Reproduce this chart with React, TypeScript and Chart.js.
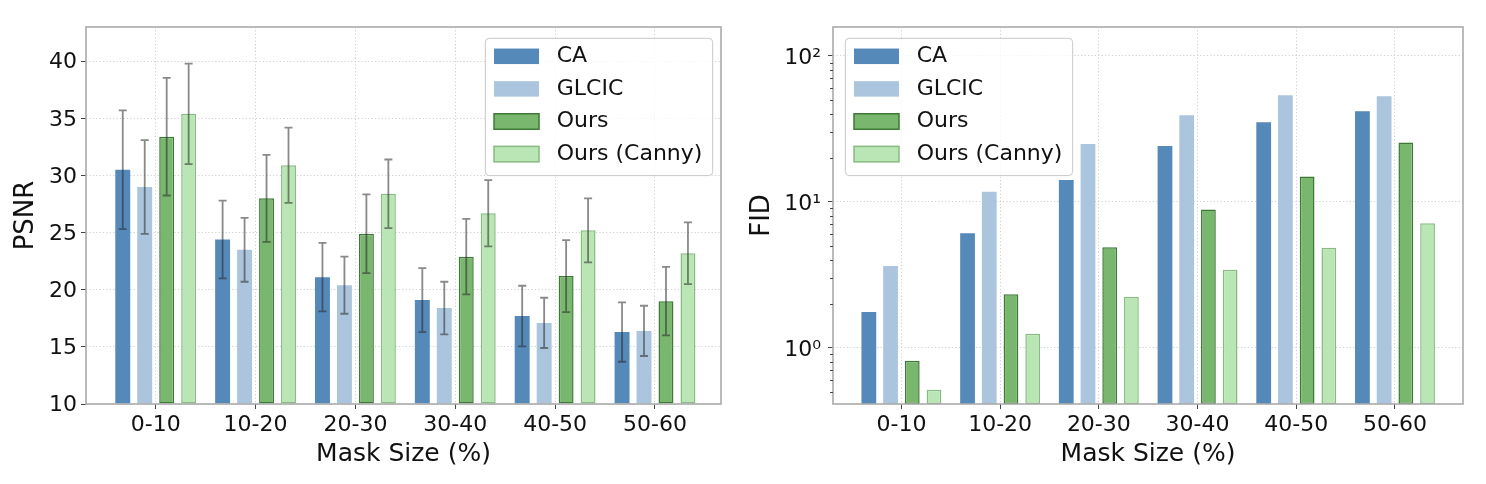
import { useEffect, useRef } from "react"
import { Chart, registerables } from "chart.js"

Chart.register(...registerables)
Chart.defaults.font.family = "'DejaVu Sans', sans-serif"

const categories = ["0-10", "10-20", "20-30", "30-40", "40-50", "50-60"]
const methods = ["CA", "GLCIC", "Ours", "Ours (Canny)"]

// PSNR means and error bar half-lengths
const psnrCA = [30.5, 24.4, 21.1, 19.1, 17.7, 16.3]
const psnrGLCIC = [29.0, 23.5, 20.4, 18.4, 17.1, 16.4]
const psnrOurs = [33.4, 28.0, 24.9, 22.9, 21.2, 19.0]
const psnrCanny = [35.4, 30.9, 28.4, 26.7, 25.2, 23.2]

const errCA = [5.2, 3.4, 3.0, 2.8, 2.65, 2.6]
const errGLCIC = [4.1, 2.8, 2.5, 2.3, 2.2, 2.2]
const errOurs = [5.15, 3.8, 3.45, 3.3, 3.15, 3.0]
const errCanny = [4.4, 3.3, 3.0, 2.9, 2.8, 2.7]

// FID (log scale)
const fidCA = [1.76, 6.1, 14.1, 24.1, 35.1, 41.8]
const fidGLCIC = [3.64, 11.7, 24.9, 39.2, 53.7, 52.9]
const fidOurs = [0.815, 2.33, 4.88, 8.87, 14.9, 25.5]
const fidCanny = [0.516, 1.25, 2.24, 3.43, 4.85, 7.13]

const psnrTicks = [10, 15, 20, 25, 30, 35, 40]
const fidMajorTicks = [1, 10, 100]
const fidTickLabels = ["10⁰", "10¹", "10²"]
const fidMinorTicks = [0.5, 0.6, 0.7, 0.8, 0.9, 2, 3, 4, 5, 6, 7, 8, 9, 20, 30, 40, 50, 60, 70, 80, 90]

const fills = ["#5589b9", "#abc5de", "#79b76f", "#b9e6b4"]
const borders = [null, null, "#3c7a35", "#87bb82"]

const TEXT = "#111"
const GRID = "#cfcfcf"

const errorBars = {
  id: "errorBars",
  afterDatasetsDraw(chart: any) {
    const { ctx } = chart
    const y = chart.scales.y
    chart.data.datasets.forEach((ds: any, di: number) => {
      if (!ds.errors) return
      const meta = chart.getDatasetMeta(di)
      meta.data.forEach((bar: any, i: number) => {
        const v = ds.data[i].y
        const e = ds.errors[i]
        const top = y.getPixelForValue(v + e)
        const bot = y.getPixelForValue(v - e)
        ctx.save()
        ctx.strokeStyle = "rgba(40,40,40,0.55)"
        ctx.lineWidth = 1.8
        ctx.beginPath()
        ctx.moveTo(bar.x, top)
        ctx.lineTo(bar.x, bot)
        ctx.moveTo(bar.x - 4, top)
        ctx.lineTo(bar.x + 4, top)
        ctx.moveTo(bar.x - 4, bot)
        ctx.lineTo(bar.x + 4, bot)
        ctx.stroke()
        ctx.restore()
      })
    })
  },
}

const frame = {
  id: "frame",
  afterDatasetsDraw(chart: any) {
    const { ctx, chartArea: a } = chart
    ctx.save()
    ctx.strokeStyle = "#aaaaaa"
    ctx.lineWidth = 1.6
    ctx.strokeRect(a.left, a.top, a.right - a.left, a.bottom - a.top)
    // minor log ticks
    const y = chart.scales.y
    if (y.type === "logarithmic") {
      ctx.strokeStyle = "#444"
      ctx.lineWidth = 1
      ctx.beginPath()
      fidMinorTicks.forEach((v) => {
        if (v < y.min || v > y.max) return
        const py = Math.round(y.getPixelForValue(v)) + 0.5
        ctx.moveTo(a.left - 3, py)
        ctx.lineTo(a.left, py)
      })
      ctx.stroke()
    }
    ctx.restore()
  },
}

const boxLegend = {
  id: "boxLegend",
  afterDraw(chart: any, _args: any, opts: any) {
    const { ctx, chartArea: a } = chart
    const items = chart.data.datasets
    ctx.save()
    ctx.font = "22px 'DejaVu Sans'"
    const textW = Math.max(...items.map((d: any) => ctx.measureText(d.label).width))
    const w = 8.7 + 45 + 18 + textW + 10
    const h = 137.3
    const x0 = opts.align === "right" ? a.right - 8.3 - w : a.left + 12.3
    const y0 = a.top + 11.3
    ctx.beginPath()
    ctx.roundRect(x0, y0, w, h, 4)
    ctx.fillStyle = "rgba(255,255,255,0.8)"
    ctx.fill()
    ctx.strokeStyle = "#c8c8c8"
    ctx.lineWidth = 1
    ctx.stroke()
    items.forEach((d: any, i: number) => {
      const cy = y0 + 18 + i * 32.6
      ctx.fillStyle = d.backgroundColor
      ctx.fillRect(x0 + 8.7, cy - 7.75, 45, 15.5)
      if (d.borderWidth) {
        ctx.strokeStyle = d.borderColor
        ctx.lineWidth = 1.5
        ctx.strokeRect(x0 + 8.7, cy - 7.75, 45, 15.5)
      }
      ctx.fillStyle = TEXT
      ctx.textBaseline = "middle"
      ctx.textAlign = "left"
      ctx.fillText(d.label, x0 + 71.4, cy)
    })
    ctx.restore()
  },
}

function makeDatasets(values: number[][], errors: number[][] | null, base?: number) {
  return values.map((vals, k) => ({
    label: methods[k],
    data: vals.map((y, i) => ({ x: i, y })),
    errors: errors ? errors[k] : undefined,
    backgroundColor: fills[k],
    borderColor: borders[k] ?? fills[k],
    borderWidth: borders[k] ? 1.5 : 0,
    borderSkipped: false,
    categoryPercentage: 0.88,
    barPercentage: 0.68,
    base,
  }))
}

const gridOpts = {
  offset: false,
  color: GRID,
  lineWidth: 1,
  tickLength: 5,
  tickColor: "#444",
  tickWidth: 1,
}

const gridDash = { display: false, dash: [1.2, 2.2] }

function xAxis(min: number, max: number) {
  return {
    type: "linear",
    min,
    max,
    offset: false,
    afterBuildTicks: (s: any) => {
      s.ticks = categories.map((_, i) => ({ value: i }))
    },
    afterFit: (s: any) => {
      s.height = 80
    },
    ticks: {
      callback: (v: any) => categories[v] ?? "",
      font: { size: 22 },
      color: TEXT,
      padding: 3,
      maxRotation: 0,
      autoSkip: false,
    },
    grid: gridOpts,
    border: gridDash,
    title: {
      display: true,
      text: "Mask Size (%)",
      font: { size: 25 },
      color: TEXT,
      padding: { top: 0, bottom: 15 },
    },
  }
}

function buildConfig(kind: "psnr" | "fid"): any {
  const isPsnr = kind === "psnr"
  const datasets = isPsnr
    ? makeDatasets([psnrCA, psnrGLCIC, psnrOurs, psnrCanny], [errCA, errGLCIC, errOurs, errCanny], psnrTicks[0])
    : makeDatasets([fidCA, fidGLCIC, fidOurs, fidCanny], null)

  const yAxis = isPsnr
    ? {
        type: "linear",
        min: 10,
        max: 43,
        afterBuildTicks: (s: any) => {
          s.ticks = psnrTicks.map((v) => ({ value: v }))
        },
        afterFit: (s: any) => {
          s.width = 86
        },
        ticks: { font: { size: 22 }, color: TEXT, padding: 4, labelOffset: 1.5 },
        grid: gridOpts,
        border: gridDash,
        title: { display: true, text: "PSNR", font: { size: 26 }, color: TEXT, padding: { top: 11, bottom: 0 } },
      }
    : {
        type: "logarithmic",
        min: 0.412,
        max: 157.6,
        afterBuildTicks: (s: any) => {
          s.ticks = fidMajorTicks.map((v) => ({ value: v, major: true }))
        },
        afterFit: (s: any) => {
          s.width = 90
        },
        ticks: {
          callback: (_v: any, i: number) => fidTickLabels[i],
          font: { size: 22 },
          color: TEXT,
          padding: 7,
          labelOffset: 2,
        },
        grid: gridOpts,
        border: gridDash,
        title: { display: true, text: "FID", font: { size: 26 }, color: TEXT, padding: { top: 4, bottom: 0 } },
      }

  return {
    type: "bar",
    data: { datasets },
    options: {
      responsive: false,
      animation: false,
      layout: { padding: { top: 27, right: isPsnr ? 22 : 23, bottom: 0, left: 0 } },
      scales: {
        x: isPsnr ? xAxis(-0.698, 5.661) : xAxis(-0.693, 5.689),
        y: yAxis,
      },
      plugins: {
        legend: { display: false },
        tooltip: { enabled: false },
        boxLegend: { align: isPsnr ? "right" : "left" },
      },
    },
    plugins: [errorBars, frame, boxLegend],
  }
}

function BarPanel({ kind }: { kind: "psnr" | "fid" }) {
  const canvasRef = useRef<HTMLCanvasElement>(null)

  useEffect(() => {
    if (!canvasRef.current) return
    const chart = new Chart(canvasRef.current, buildConfig(kind))
    return () => chart.destroy()
  }, [kind])

  return <canvas ref={canvasRef} width={743} height={484} style={{ display: "block" }} />
}

export default function App() {
  return (
    <div
      style={{
        position: "absolute",
        left: 0,
        top: 0,
        width: 1486,
        height: 484,
        display: "flex",
        background: "#fff",
      }}
    >
      <BarPanel kind="psnr" />
      <BarPanel kind="fid" />
    </div>
  )
}
